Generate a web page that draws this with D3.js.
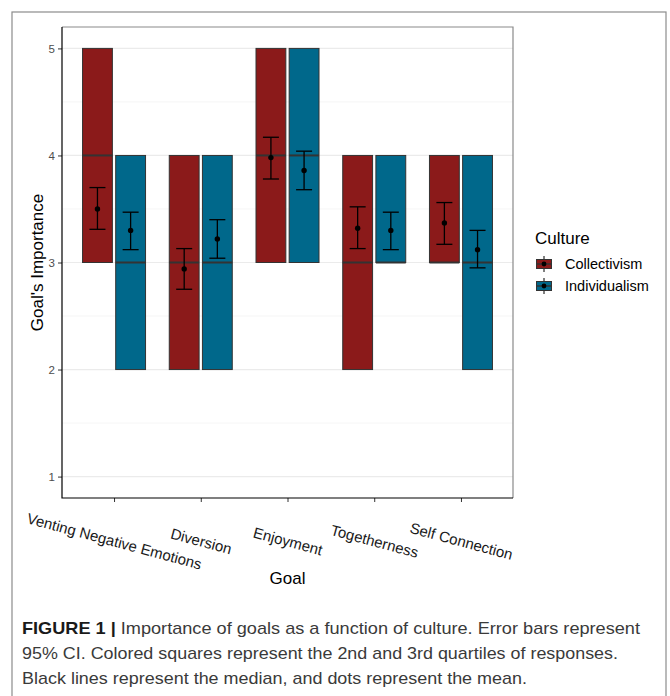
<!DOCTYPE html>
<html>
<head>
<meta charset="utf-8">
<script src="https://cdn.jsdelivr.net/npm/d3@7"></script>
<style>
  body { margin: 0; background: #fff; }
  svg { display: block; font-family: "Liberation Sans", Arial, sans-serif; }
</style>
</head>
<body>
<div id="viz"></div>
<script>
// Datos
const metas = ["Venting Negative Emotions", "Diversion", "Enjoyment", "Togetherness", "Self Connection"];
const culturas = ["Collectivism", "Individualism"];

// Colectivismo
const q1Col = [3, 2, 3, 2, 3];
const medianaCol = [4, 3, 4, 3, 3];
const q3Col = [5, 4, 5, 4, 4];
const mediaCol = [3.50, 2.94, 3.98, 3.32, 3.37];
const icBajoCol = [3.31, 2.75, 3.78, 3.13, 3.17];
const icAltoCol = [3.70, 3.13, 4.17, 3.52, 3.56];

// Individualismo
const q1Ind = [2, 2, 3, 3, 2];
const medianaInd = [3, 3, 4, 3, 3];
const q3Ind = [4, 4, 5, 4, 4];
const mediaInd = [3.30, 3.22, 3.86, 3.30, 3.12];
const icBajoInd = [3.12, 3.04, 3.68, 3.12, 2.95];
const icAltoInd = [3.47, 3.40, 4.04, 3.47, 3.30];

const ticksY = [1, 2, 3, 4, 5];
const ticksMenores = [1.5, 2.5, 3.5, 4.5];

const lineasPie = [
    "Importance of goals as a function of culture. Error bars represent",
    "95% CI. Colored squares represent the 2nd and 3rd quartiles of responses.",
    "Black lines represent the median, and dots represent the mean."
];

// Armar filas para dibujar
const filas = [];
metas.forEach((m, i) => {
    filas.push({ meta: m, cultura: "Collectivism", q1: q1Col[i], med: medianaCol[i], q3: q3Col[i], media: mediaCol[i], lo: icBajoCol[i], hi: icAltoCol[i] });
    filas.push({ meta: m, cultura: "Individualism", q1: q1Ind[i], med: medianaInd[i], q3: q3Ind[i], media: mediaInd[i], lo: icBajoInd[i], hi: icAltoInd[i] });
});

const width = 670, height = 696;
const panel = { left: 62, right: 513, top: 27, bottom: 498 };
const colores = d3.scaleOrdinal().domain(culturas).range(["#8b1a1a", "#00688b"]);

const svg = d3.select('#viz').append('svg')
    .attr('width', width)
    .attr('height', height);

svg.append('rect').attr('width', width).attr('height', height).attr('fill', '#fff');

// Marco exterior de la figura
svg.append('rect')
    .attr('x', 12).attr('y', 12)
    .attr('width', 654).attr('height', 720)
    .attr('fill', 'none')
    .attr('stroke', '#8c8c8c')
    .attr('stroke-width', 1.2);

const x = d3.scalePoint().domain(metas).range([panel.left, panel.right]).padding(0.6);
const xCult = d3.scaleBand().domain(culturas).range([-31.5, 31.5]).paddingInner(0.1);
const y = d3.scaleLinear().domain([0.8, 5.2]).range([panel.bottom, panel.top]);

// Rejilla
svg.append('g').selectAll('line').data(ticksMenores).enter().append('line')
    .attr('x1', panel.left).attr('x2', panel.right)
    .attr('y1', d => y(d)).attr('y2', d => y(d))
    .attr('stroke', '#f2f2f2').attr('stroke-width', 0.8);
svg.append('g').selectAll('line').data(ticksY).enter().append('line')
    .attr('x1', panel.left).attr('x2', panel.right)
    .attr('y1', d => y(d)).attr('y2', d => y(d))
    .attr('stroke', '#ebebeb').attr('stroke-width', 1.2);

// Cajas (2do y 3er cuartil)
const grupos = svg.append('g').selectAll('g.caja')
    .data(filas).enter().append('g')
    .attr('class', 'caja')
    .attr('transform', d => `translate(${x(d.meta)},0)`);

grupos.append('rect')
    .attr('x', d => xCult(d.cultura))
    .attr('width', xCult.bandwidth())
    .attr('y', d => y(d.q3))
    .attr('height', d => y(d.q1) - y(d.q3))
    .attr('fill', d => colores(d.cultura))
    .attr('stroke', '#333')
    .attr('stroke-width', 1);

// Mediana
grupos.append('line')
    .attr('x1', d => xCult(d.cultura))
    .attr('x2', d => xCult(d.cultura) + xCult.bandwidth())
    .attr('y1', d => y(d.med)).attr('y2', d => y(d.med))
    .attr('stroke', '#333').attr('stroke-width', 2);

// Barras de error (IC 95%)
const centro = d => xCult(d.cultura) + xCult.bandwidth() / 2;
grupos.append('line')
    .attr('x1', centro).attr('x2', centro)
    .attr('y1', d => y(d.lo)).attr('y2', d => y(d.hi))
    .attr('stroke', '#000').attr('stroke-width', 1.3);
grupos.append('line')
    .attr('x1', d => centro(d) - 8).attr('x2', d => centro(d) + 8)
    .attr('y1', d => y(d.hi)).attr('y2', d => y(d.hi))
    .attr('stroke', '#000').attr('stroke-width', 1.3);
grupos.append('line')
    .attr('x1', d => centro(d) - 8).attr('x2', d => centro(d) + 8)
    .attr('y1', d => y(d.lo)).attr('y2', d => y(d.lo))
    .attr('stroke', '#000').attr('stroke-width', 1.3);
grupos.append('circle')
    .attr('cx', centro).attr('cy', d => y(d.media))
    .attr('r', 2.7).attr('fill', '#000');

// Borde del panel (arriba y derecha en gris)
svg.append('path')
    .attr('d', `M${panel.left},${panel.top}H${panel.right}V${panel.bottom}`)
    .attr('fill', 'none').attr('stroke', '#8a8a8a').attr('stroke-width', 1.2);

// Ejes
const ejeY = svg.append('g')
    .attr('transform', `translate(${panel.left},0)`)
    .call(d3.axisLeft(y).tickValues(ticksY).tickSize(4).tickPadding(3).tickFormat(d3.format('d')));
ejeY.select('.domain').remove();
ejeY.selectAll('.tick line').attr('stroke', '#333');
ejeY.selectAll('.tick text').attr('fill', '#4d4d4d').style('font-size', '11.5px');

const ejeX = svg.append('g')
    .attr('transform', `translate(0,${panel.bottom})`)
    .call(d3.axisBottom(x).tickSize(4));
ejeX.select('.domain').remove();
ejeX.selectAll('.tick line').attr('stroke', '#333');
ejeX.selectAll('.tick text')
    .attr('y', 0).attr('dy', null)
    .attr('fill', '#1a1a1a')
    .attr('text-anchor', 'middle')
    .attr('dominant-baseline', 'central')
    .attr('transform', 'translate(0,43) rotate(15)')
    .style('font-size', '15px');

// Líneas de los ejes en negro
svg.append('path')
    .attr('d', `M${panel.left},${panel.top}V${panel.bottom}H${panel.right}`)
    .attr('fill', 'none').attr('stroke', '#000').attr('stroke-width', 1.2);

// Títulos de ejes
svg.append('text')
    .attr('transform', `translate(37,${(panel.top + panel.bottom) / 2}) rotate(-90)`)
    .attr('text-anchor', 'middle')
    .attr('dominant-baseline', 'central')
    .style('font-size', '17px')
    .text("Goal's Importance");

svg.append('text')
    .attr('x', x(metas[2])).attr('y', 584)
    .attr('text-anchor', 'middle')
    .style('font-size', '17px')
    .text('Goal');

// Leyenda
const leyenda = svg.append('g');
leyenda.append('text')
    .attr('x', 535).attr('y', 244)
    .style('font-size', '17px')
    .text('Culture');

const itemLeyenda = leyenda.selectAll('g.item')
    .data(culturas).enter().append('g')
    .attr('class', 'item')
    .attr('transform', (d, i) => `translate(544,${264 + i * 22})`);
itemLeyenda.append('line')
    .attr('y1', -8).attr('y2', 8)
    .attr('stroke', '#000').attr('stroke-width', 1);
itemLeyenda.append('rect')
    .attr('x', -7.5).attr('y', -4.5).attr('width', 15).attr('height', 9)
    .attr('fill', d => colores(d)).attr('stroke', '#333').attr('stroke-width', 1);
itemLeyenda.append('line')
    .attr('x1', -7.5).attr('x2', 7.5)
    .attr('stroke', '#333').attr('stroke-width', 1.5);
itemLeyenda.append('circle')
    .attr('r', 2.4).attr('fill', '#000');
itemLeyenda.append('text')
    .attr('x', 21).attr('dominant-baseline', 'central')
    .style('font-size', '14.5px')
    .text(d => d);

// Pie de figura
const pie = svg.append('g').style('font-size', '17px');
const linea1 = pie.append('text').attr('x', 22).attr('y', 634);
linea1.append('tspan').attr('font-weight', 'bold').attr('fill', '#1a1a1a').text('FIGURE 1 | ');
linea1.append('tspan').attr('fill', '#3a3a3a').text(lineasPie[0]);
pie.append('text').attr('x', 22).attr('y', 659).attr('fill', '#3a3a3a').text(lineasPie[1]);
pie.append('text').attr('x', 22).attr('y', 684).attr('fill', '#3a3a3a').text(lineasPie[2]);

// Ajustar el ancho de cada línea al de la figura original
const anchos = [618, 596, 505];
pie.selectAll('text').each(function (d, i) {
    d3.select(this).attr('textLength', anchos[i]).attr('lengthAdjust', 'spacingAndGlyphs');
});
</script>
</body>
</html>
